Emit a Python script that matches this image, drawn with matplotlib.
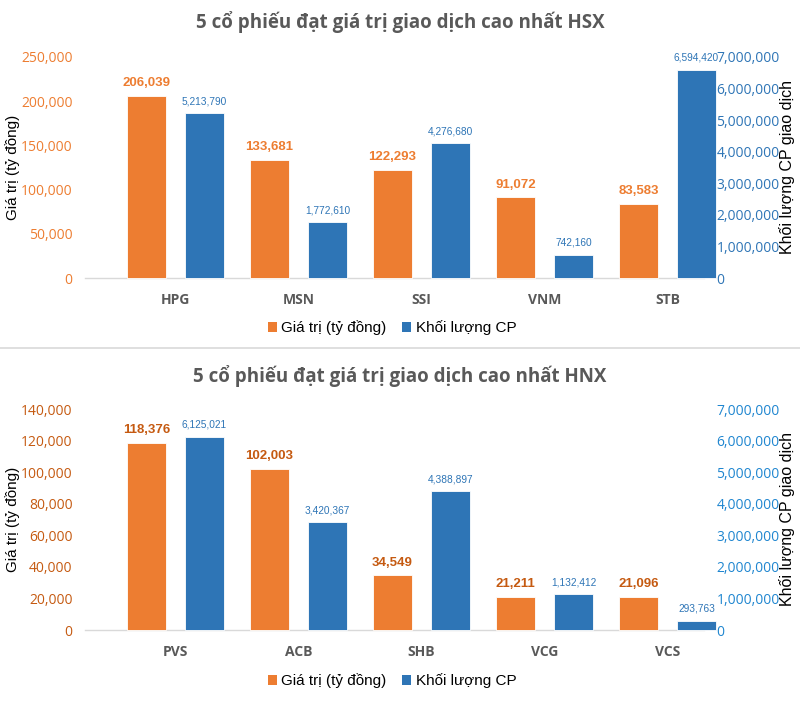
import matplotlib
matplotlib.use("Agg")
import matplotlib.pyplot as plt
from matplotlib.patches import Patch
from matplotlib.lines import Line2D
from matplotlib.ticker import FuncFormatter, MultipleLocator
import numpy as np

# ---- data ----
hsx_codes = ["HPG", "MSN", "SSI", "VNM", "STB"]
hsx_value = [206039, 133681, 122293, 91072, 83583]
hsx_volume = [5213790, 1772610, 4276680, 742160, 6594420]

hnx_codes = ["PVS", "ACB", "SHB", "VCG", "VCS"]
hnx_value = [118376, 102003, 34549, 21211, 21096]
hnx_volume = [6125021, 3420367, 4388897, 1132412, 293763]

title_hsx = "5 cổ phiếu đạt giá trị giao dịch cao nhất HSX"
title_hnx = "5 cổ phiếu đạt giá trị giao dịch cao nhất HNX"
legend_labels = ["Giá trị (tỷ đồng)", "Khối lượng CP"]
left_label = "Giá trị (tỷ đồng)"
right_label = "Khối lượng CP giao dịch"

ORANGE = "#ED7D31"
BLUE = "#2E75B6"
ARIAL = ["Liberation Sans", "DejaVu Sans"]
OPEN = ["Open Sans", "DejaVu Sans"]

W, H = 800, 727
fig = plt.figure(figsize=(8, 7.27), dpi=100)


def fy(py):
    return 1 - py / H


def draw(top_px, bot_px, codes, vals, vols, lmax, lstep, title, title_px,
         legend_px, tick_orange, tick_blue, lab_orange, lab_blue):
    left, right = 85 / W, 704 / W
    ax = fig.add_axes([left, fy(bot_px), right - left, fy(top_px) - fy(bot_px)])
    ax2 = ax.twinx()
    x = np.arange(len(codes))
    w = 0.317
    off = 0.236
    b1 = ax.bar(x - off, vals, w, color=ORANGE, edgecolor="white", linewidth=0.6,
                zorder=3, clip_on=False)
    b2 = ax2.bar(x + off, vols, w, color=BLUE, edgecolor="white", linewidth=0.6,
                 zorder=3, clip_on=False)
    xl = -0.736
    ax.set_xlim(xl, xl + 619 / 123)
    ax.set_ylim(0, lmax)
    ax2.set_ylim(0, 7000000)
    ax.yaxis.set_major_locator(MultipleLocator(lstep))
    ax2.yaxis.set_major_locator(MultipleLocator(1000000))
    fmt = FuncFormatter(lambda v, p: f"{int(round(v)):,}")
    ax.yaxis.set_major_formatter(fmt)
    ax2.yaxis.set_major_formatter(fmt)
    for a in (ax, ax2):
        for s in ("top", "left", "right", "bottom"):
            a.spines[s].set_visible(False)
    ax.spines["bottom"].set_visible(True)
    ax.spines["bottom"].set_color("#D9D9D9")
    ax.spines["bottom"].set_linewidth(1.0)
    ax.tick_params(axis="y", length=0, pad=9, labelsize=10, labelcolor=tick_orange)
    ax2.tick_params(axis="y", length=0, pad=9, labelsize=10, labelcolor=tick_blue)
    for t in ax.get_yticklabels() + ax2.get_yticklabels():
        t.set_fontfamily(OPEN)
    ax.set_xticks(x)
    ax.set_xticklabels(codes, fontsize=10, color="#595959", fontweight="bold",
                       fontfamily=OPEN)
    ax.tick_params(axis="x", length=0, pad=11)
    for rect, v in zip(b1, vals):
        ax.annotate(f"{v:,}", (rect.get_x() + rect.get_width() / 2, rect.get_height()),
                    xytext=(0, 5), textcoords="offset points", ha="center", va="bottom",
                    fontsize=9.5, fontweight="bold", color=lab_orange, fontfamily=ARIAL,
                    annotation_clip=False)
    for rect, v in zip(b2, vols):
        ax2.annotate(f"{v:,}", (rect.get_x() + rect.get_width() / 2, rect.get_height()),
                     xytext=(0, 5), textcoords="offset points", ha="center", va="bottom",
                     fontsize=7.3, color=lab_blue, fontfamily=ARIAL,
                     annotation_clip=False)
    mid = (fy(top_px) + fy(bot_px)) / 2
    fig.text(13 / W, mid, left_label, rotation=90, ha="center", va="center",
             fontsize=11, color="black", fontfamily=ARIAL)
    fig.text(787 / W, mid, right_label, rotation=90, ha="center", va="center",
             fontsize=11.5, color="black", fontfamily=ARIAL)
    fig.text(0.5, fy(title_px), title, ha="center", va="center", fontsize=13.5,
             fontweight="bold", color="#595959", fontfamily=OPEN)
    handles = [Patch(facecolor=ORANGE), Patch(facecolor=BLUE)]
    fig.legend(handles, legend_labels, loc="center", bbox_to_anchor=(0.49, fy(legend_px)),
               ncol=2, frameon=False, handlelength=0.6, handleheight=0.6,
               handletextpad=0.3, columnspacing=1.0,
               prop={"family": ARIAL, "size": 11})


draw(57, 278, hsx_codes, hsx_value, hsx_volume, 250000, 50000, title_hsx, 22, 328,
     ORANGE, "#2E75B6", ORANGE, "#2E75B6")
draw(409, 630, hnx_codes, hnx_value, hnx_volume, 140000, 20000, title_hnx, 376, 681,
     "#C55A11", "#1F86D0", "#C55A11", "#2E75B6")

fig.add_artist(Line2D([0, 1], [fy(348), fy(348)], color="#D9D9D9", linewidth=1.2,
                      transform=fig.transFigure))

fig.savefig("out.png", dpi=100)
